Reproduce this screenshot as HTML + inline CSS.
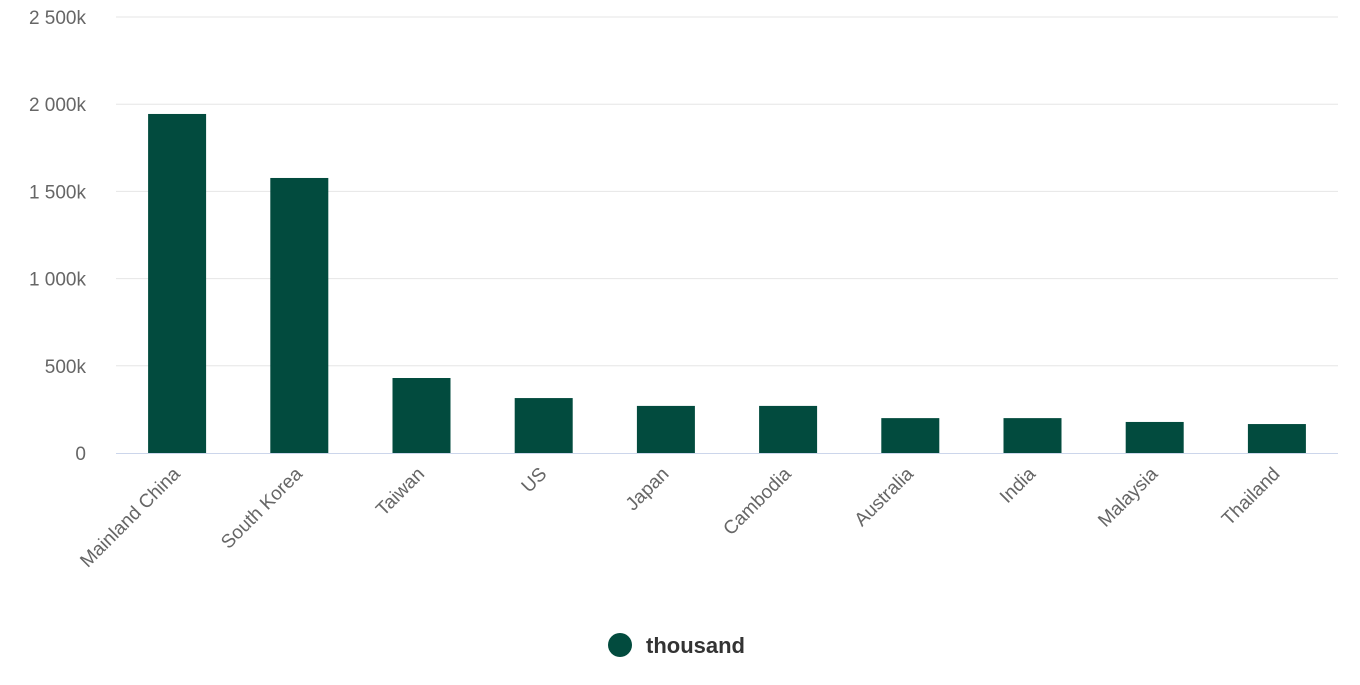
<!DOCTYPE html>
<html><head><meta charset="utf-8"><style>
body{margin:0;background:#fff;font-family:"Liberation Sans",Arial,sans-serif;}
</style></head><body>
<svg id="chart" width="1360" height="680" xmlns="http://www.w3.org/2000/svg">
<g id="grid"></g>
<g id="yaxis"></g>
<g id="bars"></g>
<g id="xaxis"></g>
<g>
<circle cx="620" cy="645" r="12" fill="#024b3e"/>
<text x="646" y="653" font-size="22" font-weight="bold" fill="#333">thousand</text>
</g>
</svg>
<script>
const categories=["Mainland China","South Korea","Taiwan","US","Japan","Cambodia","Australia","India","Malaysia","Thailand"];
const values=[1944,1577,430,315,270,270,200,200,178,166];
const yTicks=[0,500,1000,1500,2000,2500];
const yTickLabels=["0","500k","1 000k","1 500k","2 000k","2 500k"];
const NS="http://www.w3.org/2000/svg";
const plotLeft=116,plotRight=1338,plotTop=17,plotBottom=453,yMax=2500;
const yScale=v=>plotBottom-(v/yMax)*(plotBottom-plotTop);
const band=(plotRight-plotLeft)/categories.length;
const xScale=i=>plotLeft+band*i+band/2;
function mk(t,a,p){const e=document.createElementNS(NS,t);for(const k in a)e.setAttribute(k,a[k]);p.appendChild(e);return e;}
const gridG=document.getElementById('grid'),yaG=document.getElementById('yaxis'),barsG=document.getElementById('bars'),xaG=document.getElementById('xaxis');
yTicks.forEach((t,i)=>{
 if(t>0){const l=mk('line',{x1:plotLeft,x2:plotRight,y1:yScale(t),y2:yScale(t),stroke:'#e6e6e6','stroke-width':1},gridG);
 
 }
 const tx=mk('text',{x:86,y:yScale(t)+7,'text-anchor':'end','font-size':19,fill:'#666'},yaG);
 tx.textContent=yTickLabels[i];
 
 
});
const base=mk('line',{x1:plotLeft,x2:plotRight,y1:plotBottom+0.5,y2:plotBottom+0.5,stroke:'#ccd6eb','stroke-width':1},xaG);


const bw=58;
values.forEach((v,i)=>{
 const r=mk('rect',{x:xScale(i)-bw/2,y:yScale(v),width:bw,height:plotBottom-yScale(v),fill:'#024b3e'},barsG);
 
 
 const cx=xScale(i)+4,cy=plotBottom+22;
 const tx=mk('text',{x:cx,y:cy,'text-anchor':'end','font-size':19,fill:'#666',transform:'rotate(-45 '+cx+' '+cy+')'},xaG);
 tx.textContent=categories[i];
 
 
});
</script>
</body></html>
